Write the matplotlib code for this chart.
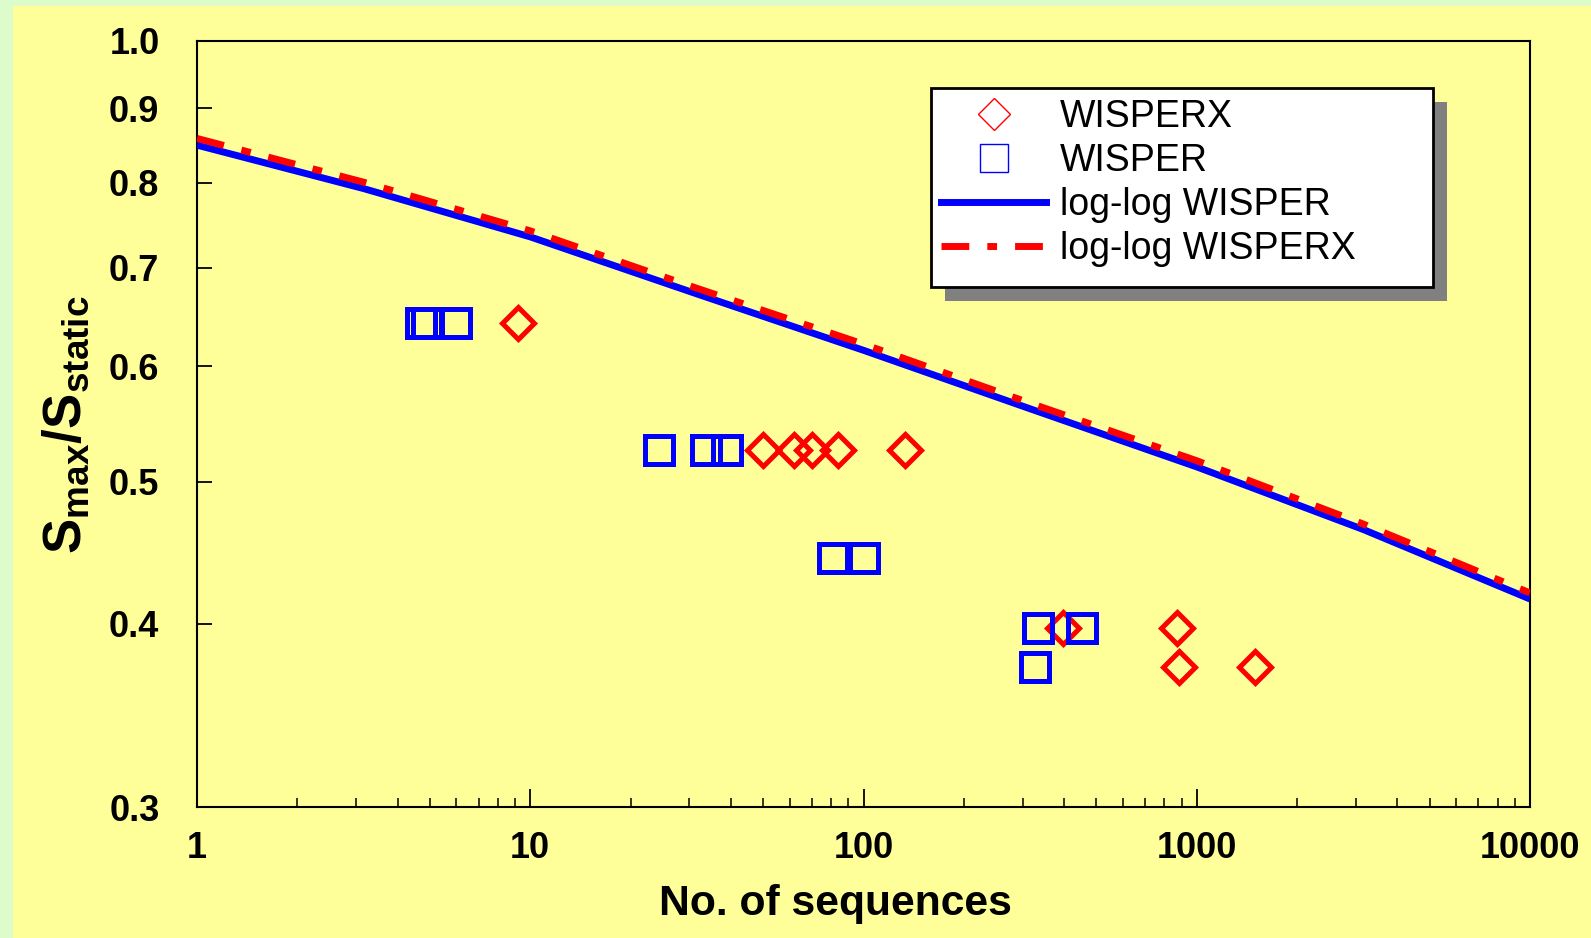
import matplotlib
matplotlib.use("Agg")
import matplotlib.pyplot as plt
from matplotlib.lines import Line2D
from matplotlib.patches import Rectangle
from matplotlib.ticker import FixedLocator, NullLocator, LogLocator

plt.rcParams['font.family'] = ['Liberation Sans', 'DejaVu Sans']
plt.rcParams['mathtext.fontset'] = 'custom'
plt.rcParams['mathtext.rm'] = 'Liberation Sans:bold'
plt.rcParams['mathtext.bf'] = 'Liberation Sans:bold'
plt.rcParams['mathtext.it'] = 'Liberation Sans:bold'

# measured points
wisperx_x = [9.2, 50, 62, 70, 84, 133, 396, 871, 887, 1496]
wisperx_y = [0.642, 0.526, 0.526, 0.526, 0.526, 0.526, 0.3975, 0.3975, 0.374, 0.374]

wisper_x = [4.7, 4.9, 6.0, 24.4, 33.6, 39.0, 81, 100, 334, 453, 328]
wisper_y = [0.642, 0.642, 0.642, 0.526, 0.526, 0.526, 0.444, 0.444, 0.3975, 0.3975, 0.374]

# fitted curves
fit_x = [1, 3.16, 10, 31.6, 100, 316, 1000, 3162, 10000]
fit_wisper = [0.849, 0.793, 0.735, 0.672, 0.615, 0.561, 0.512, 0.464, 0.416]
fit_wisperx = [0.858, 0.801, 0.742, 0.678, 0.621, 0.566, 0.517, 0.468, 0.420]

y_ticks = [0.3, 0.4, 0.5, 0.6, 0.7, 0.8, 0.9, 1.0]
x_ticks = [1, 10, 100, 1000, 10000]

W, H = 1591, 938
fig = plt.figure(figsize=(W / 100, H / 100), dpi=100, facecolor='#dcfccc')
fig.patches.append(Rectangle((13 / W, 0), 1, 1 - 6 / H, transform=fig.transFigure,
                             facecolor='#ffff99', edgecolor='none', zorder=-10))

ax = fig.add_axes([197 / W, 1 - 807 / H, (1530 - 197) / W, (807 - 41) / H])
ax.set_facecolor('#ffff99')
ax.set_xscale('log')
ax.set_yscale('log')
ax.set_xlim(1, 10000)
ax.set_ylim(0.3, 1.0)

ax.plot(fit_x, fit_wisper, color='#0000ff', lw=5, solid_capstyle='butt', zorder=3)
ax.plot(fit_x, fit_wisperx, color='#ff0000', lw=5, dashes=(4, 2.6, 1.4, 2.6),
        dash_capstyle='butt', zorder=4)
ax.plot(wisperx_x, wisperx_y, ls='none', marker='D', ms=16, mfc='none', mec='#ff0000',
        mew=3.6, zorder=5)
ax.plot(wisper_x, wisper_y, ls='none', marker='s', ms=19.5, mfc='none', mec='#0000ff',
        mew=3.6, zorder=6)

ax.yaxis.set_major_locator(FixedLocator(y_ticks))
ax.yaxis.set_minor_locator(NullLocator())
ax.set_yticklabels(['%.1f' % v for v in y_ticks])
ax.xaxis.set_major_locator(FixedLocator(x_ticks))
ax.xaxis.set_minor_locator(LogLocator(base=10, subs=range(2, 10)))
ax.set_xticklabels([str(v) for v in x_ticks])

ax.tick_params(axis='y', which='major', direction='in', length=11, width=1.3, pad=27,
               labelsize=26)
ax.tick_params(axis='x', which='major', direction='in', length=13, width=1.3, pad=17,
               labelsize=26)
ax.tick_params(axis='x', which='minor', direction='in', length=6.5, width=1.1)
for lab in ax.get_xticklabels() + ax.get_yticklabels():
    lab.set_fontweight('bold')
for s in ax.spines.values():
    s.set_linewidth(1.5)

xl = ax.set_xlabel('No. of sequences', fontsize=30.7, fontweight='bold')
xl.set_va('center')
ax.xaxis.set_label_coords(0.479, -0.127)
yl = ax.set_ylabel(r'$\mathbf{S_{max}/S_{static}}$', fontsize=38)
yl.set_va('center')
ax.yaxis.set_label_coords(-0.098, 0.499)

# legend box with its shadow, drawn by hand
bx0, by0, bx1, by1 = 930.5, 88.3, 1432.8, 287.2
shadow = Rectangle(((bx0 + 14) / W, 1 - (by1 + 14) / H), (bx1 - bx0) / W, (by1 - by0) / H,
                   transform=fig.transFigure, facecolor='#808080', edgecolor='none',
                   zorder=9, clip_on=False)
box = Rectangle((bx0 / W, 1 - by1 / H), (bx1 - bx0) / W, (by1 - by0) / H,
                transform=fig.transFigure, facecolor='white', edgecolor='black',
                lw=2, zorder=10, clip_on=False)
ax.add_patch(shadow)
ax.add_patch(box)

handles = [
    Line2D([], [], ls='none', marker='D', ms=16, mfc='none', mec='#ff0000', mew=1),
    Line2D([], [], ls='none', marker='s', ms=20, mfc='none', mec='#0000ff', mew=1),
    Line2D([], [], color='#0000ff', lw=5),
    Line2D([], [], color='#ff0000', lw=5, dashes=(4, 2.6, 1.4, 2.6), dash_capstyle='butt'),
]
labels = ['WISPERX', 'WISPER', 'log-log WISPER', 'log-log WISPERX']
leg = ax.legend(handles, labels, loc='upper left', bbox_to_anchor=(0.550, 0.9386),
                fontsize=27, frameon=False, handlelength=2.8,
                handletextpad=0.36, labelspacing=0.215, borderpad=0.3,
                borderaxespad=0)
leg.set_zorder(11)

fig.savefig('out.png', dpi=100, facecolor=fig.get_facecolor())
